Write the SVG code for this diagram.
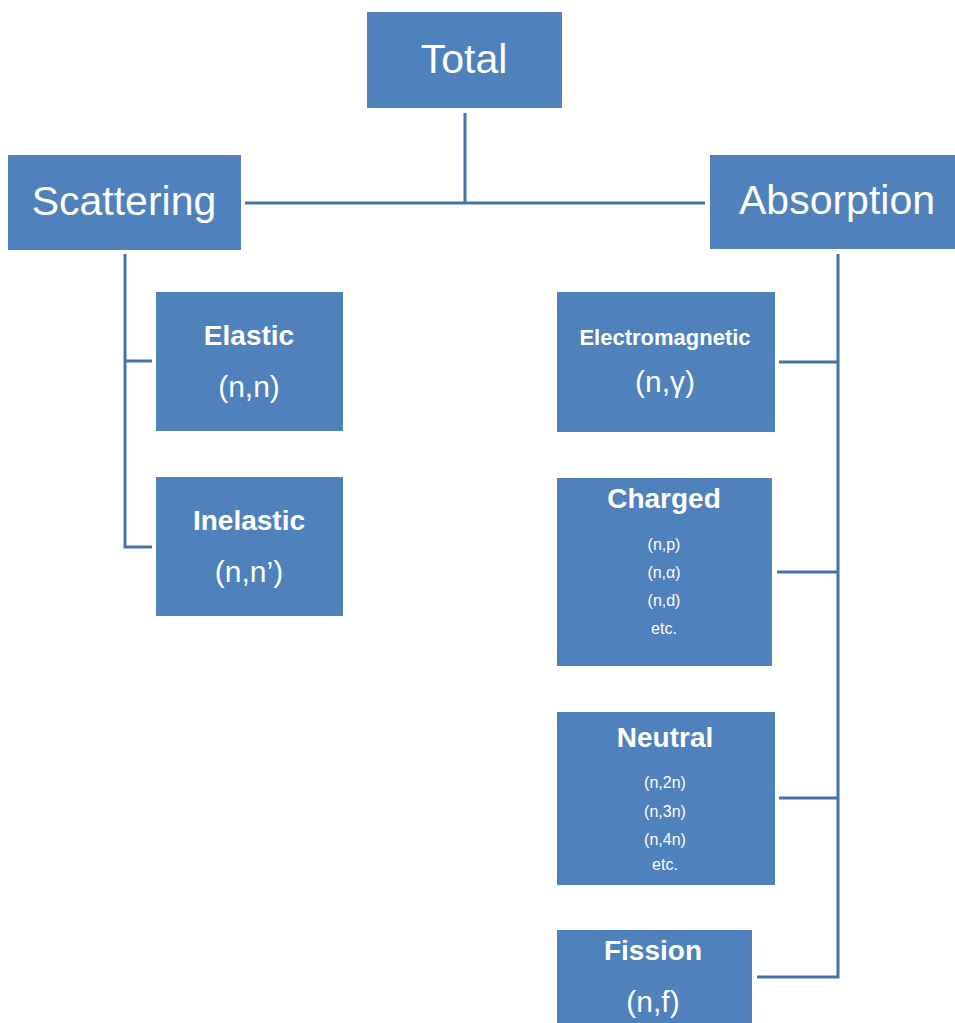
<svg xmlns="http://www.w3.org/2000/svg" width="955" height="1023" viewBox="0 0 955 1023">
  <style>
    .box { fill: #4F81BD; }
    .big { font-family: "Liberation Sans", Arial, sans-serif; font-size: 41px; fill: #ffffff; text-anchor: middle; }
    .head { font-family: "Liberation Sans", Arial, sans-serif; font-size: 28px; font-weight: bold; fill: #ffffff; text-anchor: middle; }
    .sub { font-family: "Liberation Sans", Arial, sans-serif; font-size: 30px; fill: #ffffff; text-anchor: middle; }
    .small { font-family: "Liberation Sans", Arial, sans-serif; font-size: 16px; fill: #ffffff; text-anchor: middle; }
    .link { fill: none; stroke: #4672AA; stroke-width: 3; }
  </style>
  <rect width="955" height="1023" fill="#ffffff"/>

  <!-- connectors -->
  <g id="connectors">
    <path class="link" d="M465,113 V203"/>
    <path class="link" d="M245,203 H705"/>
    <path class="link" d="M125,254 V547 H152"/>
    <path class="link" d="M125,361 H152"/>
    <path class="link" d="M838,254 V977 H757"/>
    <path class="link" d="M779,362 H838"/>
    <path class="link" d="M777,572 H838"/>
    <path class="link" d="M779,798 H838"/>
  </g>

  <g id="total">
    <rect class="box" x="367" y="12" width="195" height="96"/>
    <text class="big" x="464" y="73">Total</text>
  </g>

  <g id="scattering">
    <rect class="box" x="8" y="155" width="233" height="95"/>
    <text class="big" x="124" y="215">Scattering</text>
  </g>

  <g id="absorption">
    <rect class="box" x="710" y="155" width="245" height="94"/>
    <text class="big" x="837" y="214">Absorption</text>
  </g>

  <g id="elastic">
    <rect class="box" x="156" y="292" width="187" height="139"/>
    <text class="head" x="249" y="345">Elastic</text>
    <text class="sub" x="249" y="397">(n,n)</text>
  </g>

  <g id="inelastic">
    <rect class="box" x="156" y="477" width="187" height="139"/>
    <text class="head" x="249" y="530">Inelastic</text>
    <text class="sub" x="249" y="582">(n,n’)</text>
  </g>

  <g id="electromagnetic">
    <rect class="box" x="557" y="292" width="218" height="140"/>
    <text class="head" x="665" y="345" style="font-size:22px">Electromagnetic</text>
    <text class="sub" x="665" y="392">(n,γ)</text>
  </g>

  <g id="charged">
    <rect class="box" x="557" y="478" width="215" height="188"/>
    <text class="head" x="664" y="508">Charged</text>
    <text class="small" x="664" y="550">(n,p)</text>
    <text class="small" x="664" y="578">(n,α)</text>
    <text class="small" x="664" y="606">(n,d)</text>
    <text class="small" x="664" y="634">etc.</text>
  </g>

  <g id="neutral">
    <rect class="box" x="557" y="712" width="218" height="173"/>
    <text class="head" x="665" y="747">Neutral</text>
    <text class="small" x="665" y="788">(n,2n)</text>
    <text class="small" x="665" y="817">(n,3n)</text>
    <text class="small" x="665" y="845">(n,4n)</text>
    <text class="small" x="665" y="870">etc.</text>
  </g>

  <g id="fission">
    <rect class="box" x="557" y="930" width="195" height="93"/>
    <text class="head" x="653" y="960">Fission</text>
    <text class="sub" x="653" y="1012">(n,f)</text>
  </g>
</svg>
